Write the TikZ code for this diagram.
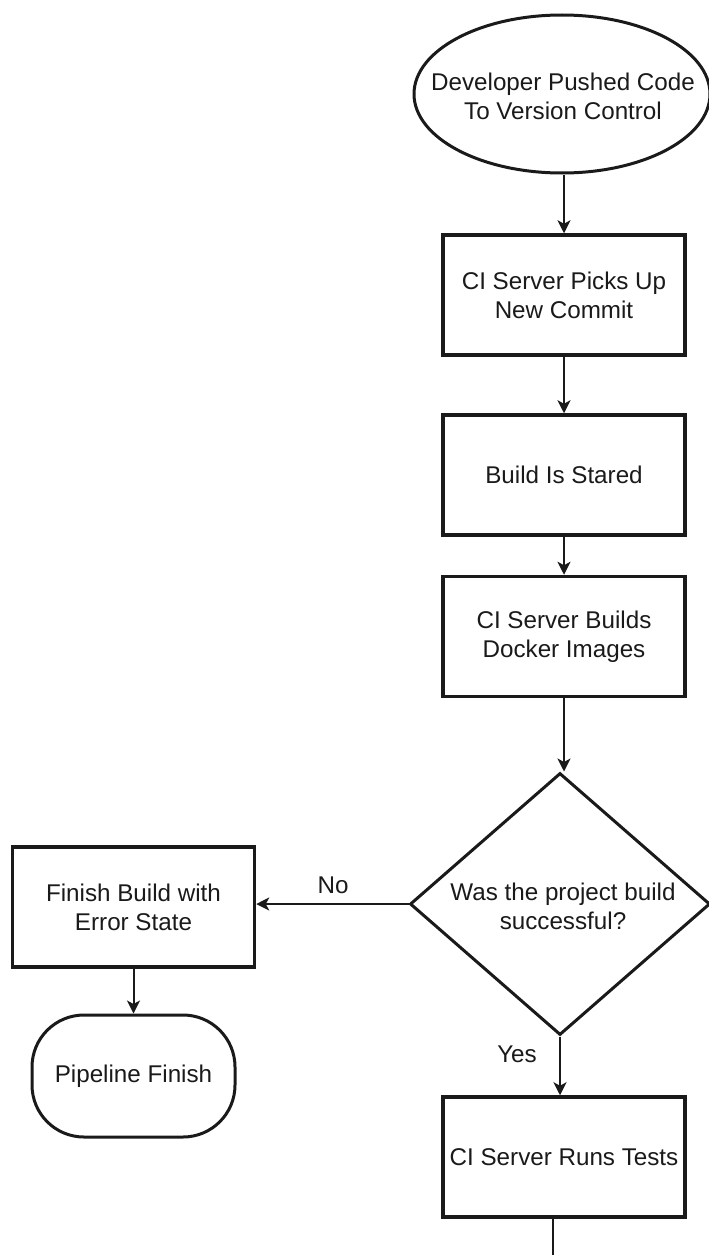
\documentclass[tikz,border=0pt]{standalone}
\usepackage{fontspec}
\setmainfont{Liberation Sans}
\usetikzlibrary{shapes.geometric,arrows.meta}
\definecolor{ink}{HTML}{1A1A1A}
\tikzset{
  txt/.style={font=\fontsize{24.2}{29}\selectfont, text=ink, align=center},
  procbox/.style={txt, draw=ink, line width=3.5pt, minimum width=242pt, minimum height=120pt, inner sep=0pt},
  startell/.style={draw=ink, ellipse, line width=3pt, minimum width=296pt, minimum height=158pt, inner sep=0pt},
  termbox/.style={txt, draw=ink, line width=3pt, rounded corners=52pt, minimum width=203pt, minimum height=122pt, inner sep=0pt},
  decision/.style={draw=ink, diamond, line width=3pt, minimum width=300pt, minimum height=262pt, inner sep=0pt},
  flow/.style={draw=ink, line width=2pt, -{Stealth[length=13pt,width=13pt,inset=3.5pt]}},
  plain/.style={draw=ink, line width=2pt},
  lbl/.style={txt}
}
\begin{document}
\begin{tikzpicture}[x=1pt,y=-1pt]
\useasboundingbox[fill=white] (0,0) rectangle (709,1255);
\node[startell] (start) at (562,94) {};
\node[txt] (starttext) at (563,96) {Developer Pushed Code\\To Version Control};
\node[procbox] (b1) at (564,295) {CI Server Picks Up\\New Commit};
\node[procbox] (b2) at (564,475) {Build Is Stared};
\node[procbox] (b3) at (564,636.5) {CI Server Builds\\Docker Images};
\node[decision] (dec) at (560,904) {};
\node[txt] (dectext) at (563,906) {Was the project build\\successful?};
\node[procbox] (b4) at (564,1157) {CI Server Runs Tests};
\node[procbox] (fin) at (133.5,907) {Finish Build with\\Error State};
\node[termbox] (pipe) at (133.5,1076) {Pipeline Finish};
\coordinate (tail) at (553,1256);
\node[lbl] (no) at (333,885) {No};
\node[lbl] (yes) at (517,1054) {Yes};

\draw[flow] (start.south -| b1.north) -- (b1.north);
\draw[flow] (b1.south) -- (b2.north);
\draw[flow] (b2.south) -- (b3.north);
\draw[flow] (b3.south) -- (b3.south |- dec.north);
\draw[flow] (dec.west) -- (fin.east |- dec.west);
\draw[flow] (dec.south) -- (dec.south |- b4.north);
\draw[flow] (fin.south) -- (pipe.north);
\draw[plain] (b4.south -| tail) -- (tail);
\end{tikzpicture}
\end{document}
